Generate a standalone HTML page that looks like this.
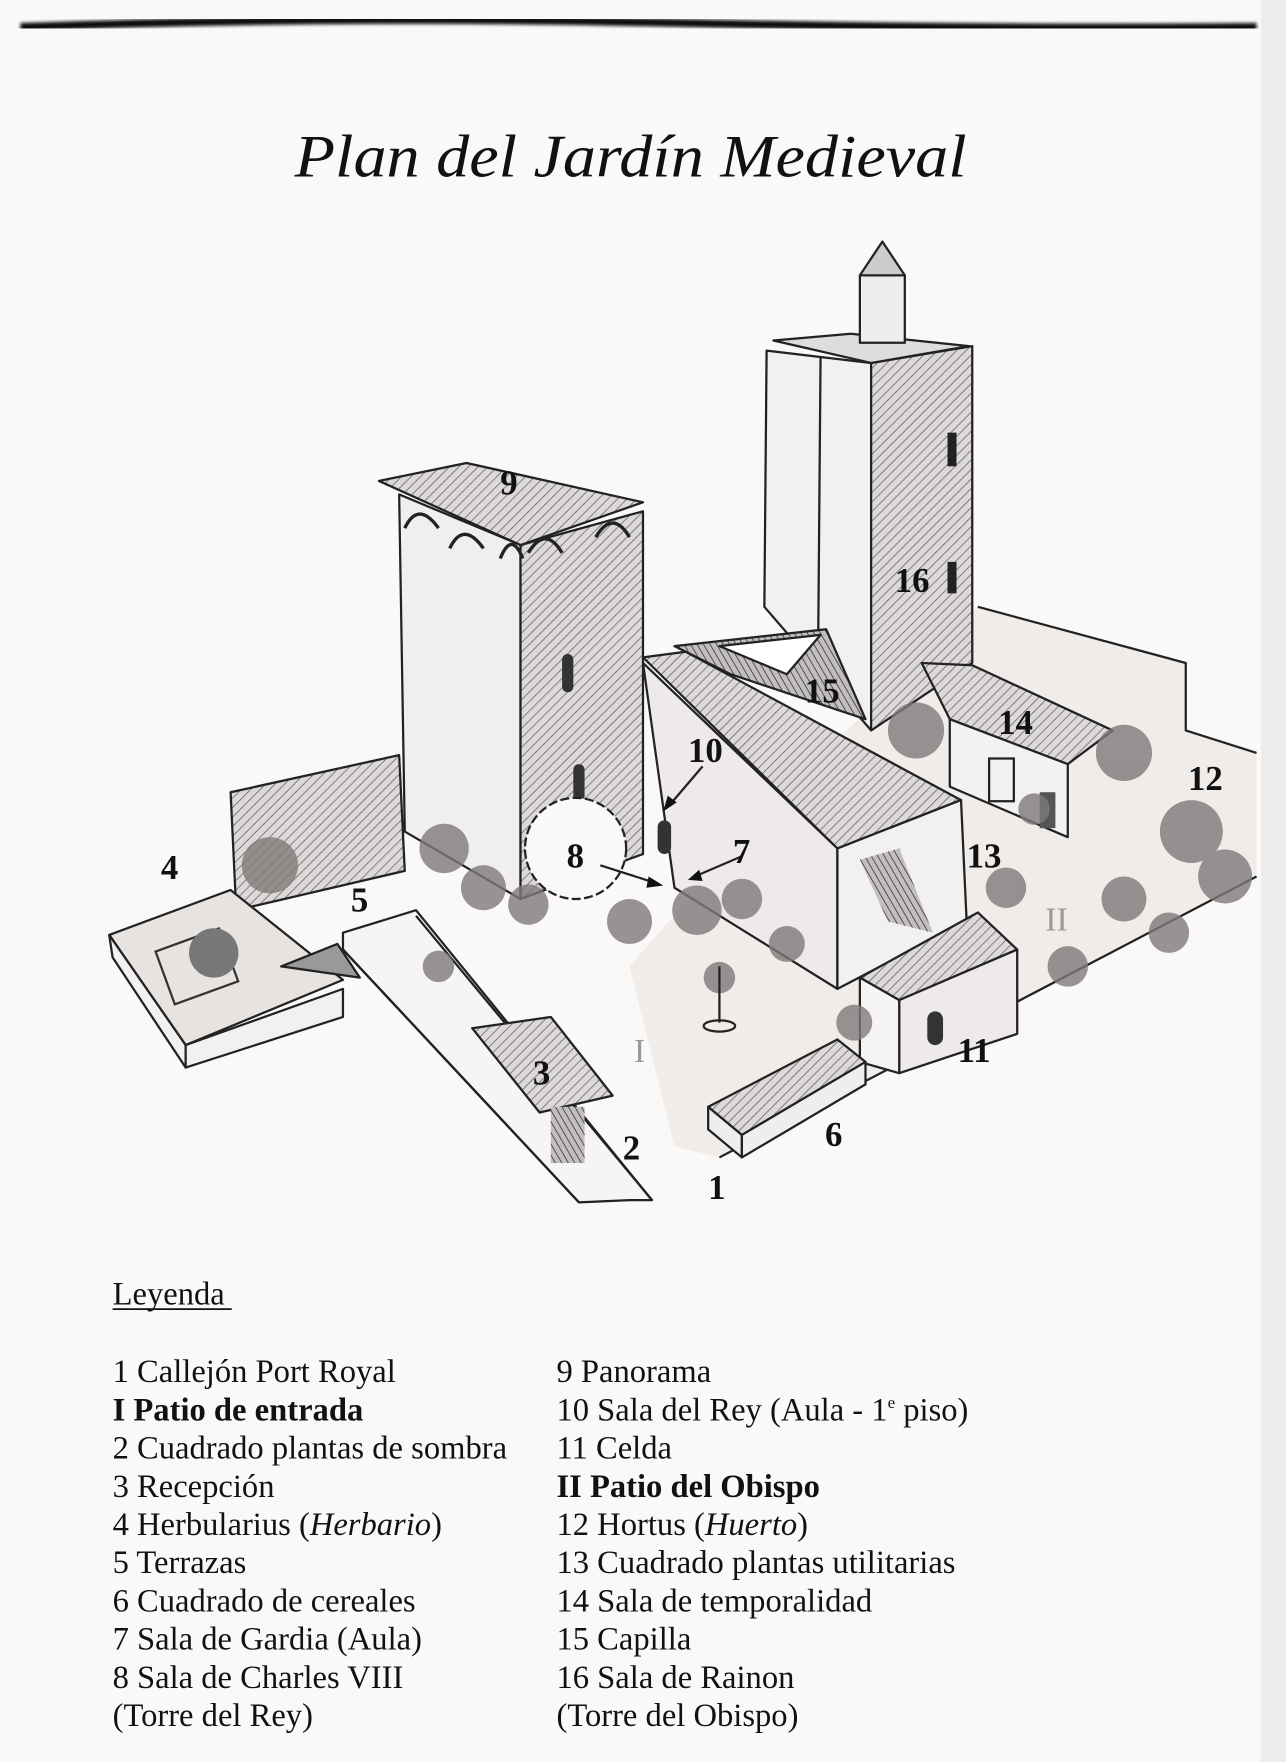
<!DOCTYPE html>
<html><head><meta charset="utf-8"><style>
html,body{margin:0;padding:0;background:#fbf9f8;}
svg{display:block}
.t{font-family:"Liberation Serif",serif;font-size:29px;fill:#111}
.n{font-family:"Liberation Serif",serif;font-weight:bold;font-size:31px;fill:#111}
.s{stroke:#222;stroke-width:2;stroke-linejoin:round}
</style></head><body>
<svg width="1286" height="1762" viewBox="0 0 1144 1568" xmlns="http://www.w3.org/2000/svg">
<defs>
<pattern id="h" width="6" height="6" patternUnits="userSpaceOnUse" patternTransform="rotate(45)"><rect width="6" height="6" fill="#dcd9d8"/><line x1="0" y1="0" x2="0" y2="6" stroke="#666" stroke-width="1.4"/></pattern>
<pattern id="h2" width="5" height="5" patternUnits="userSpaceOnUse" patternTransform="rotate(-30)"><rect width="5" height="5" fill="#c2bebd"/><line x1="0" y1="0" x2="0" y2="5" stroke="#333" stroke-width="1.4"/></pattern>
<filter id="b"><feGaussianBlur stdDeviation="1.5"/></filter>
</defs>
<rect width="1144" height="1568" fill="#fbf9f8"/>
<rect x="1122" y="0" width="22" height="1568" fill="#eeeceb"/>
<path d="M18 24 Q300 14 580 20 T1118 24" stroke="#111" stroke-width="7" fill="none" filter="url(#b)"/>
<text x="262" y="157" textLength="598" lengthAdjust="spacingAndGlyphs" font-family="Liberation Serif,serif" font-style="italic" font-size="54" fill="#111">Plan del Jardín Medieval</text>

<!-- ground / outer wall -->
<polygon points="870,540 1055,590 1055,650 1118,670 1118,780 640,1030 600,1020 560,860 700,700" fill="#efecea"/>
<polyline class="s" fill="none" points="870,540 1055,590 1055,650 1118,670"/>
<line class="s" x1="1118" y1="780" x2="640" y2="1030"/>
<!-- herbularius -->
<polygon class="s" points="205,705 355,672 360,775 210,810" fill="url(#h)"/>
<polygon class="s" points="97,832 205,792 305,872 165,930" fill="#e6e3e1"/>
<polygon class="s" points="97,832 165,930 165,950 100,852" fill="#f3f1f0"/>
<polygon class="s" points="165,930 305,880 305,905 165,950" fill="#f3f1f0"/>
<rect x="145" y="835" width="60" height="50" fill="none" stroke="#333" stroke-width="2" transform="rotate(-20 175 860)"/>
<circle cx="190" cy="848" r="22" fill="#777"/>
<polygon class="s" points="250,860 300,840 320,870" fill="#999"/>
<!-- walls 2/3 -->
<polygon class="s" points="305,830 370,810 580,1068 560,1068 515,1070 305,845" fill="#f7f5f4"/>
<line class="s" x1="305" y1="845" x2="515" y2="1070"/>
<line class="s" x1="370" y1="815" x2="580" y2="1068"/>
<polygon class="s" points="420,915 490,905 545,975 480,990" fill="url(#h)"/>
<rect x="490" y="985" width="30" height="50" fill="url(#h2)"/>
<!-- tower 9 -->
<polygon class="s" points="355,440 463,485 463,800 360,740" fill="#f1efee"/>
<polygon class="s" points="463,485 572,455 572,760 463,800" fill="url(#h)"/>
<polygon class="s" points="337,428 415,412 572,447 463,485" fill="url(#h)"/>
<path d="M360 470 q12 -25 30 0 M400 488 q12 -25 30 0 M445 497 q10 -25 20 0 M470 492 q15 -25 30 0 M530 478 q15 -25 30 0" stroke="#222" stroke-width="3" fill="none"/>
<rect x="500" y="582" width="10" height="34" fill="#333" rx="5"/>
<rect x="510" y="680" width="10" height="34" fill="#333" rx="5"/>
<!-- tower 16 -->
<polygon class="s" points="682,312 775,323 775,650 680,540" fill="#f3f1f0"/>
<polygon class="s" points="775,323 865,308 865,590 775,650" fill="url(#h)"/>
<polygon class="s" points="688,303 757,297 862,308 775,323" fill="#ddd"/>
<polygon class="s" points="765,245 805,245 805,305 765,305" fill="#eee"/>
<polygon class="s" points="765,245 785,215 805,245" fill="#ccc"/>
<rect x="843" y="385" width="8" height="30" fill="#222"/>
<rect x="843" y="500" width="8" height="28" fill="#222"/>
<line class="s" x1="730" y1="318" x2="728" y2="560"/>
<!-- chapel 15 -->
<polygon class="s" points="600,575 735,560 770,640 650,600" fill="url(#h2)"/>
<polygon class="s" points="640,575 730,565 700,600" fill="#fff"/>
<!-- long building 7/10 -->
<polygon class="s" points="572,585 610,580 855,712 745,755" fill="url(#h)"/>
<polygon class="s" points="572,590 745,755 745,880 600,790" fill="#eeeae9"/>
<polygon class="s" points="745,755 855,712 860,820 745,880" fill="#f3f1f0"/>
<polygon points="765,765 800,755 830,830 790,820" fill="url(#h2)"/>
<rect x="585" y="730" width="12" height="30" fill="#333" rx="6"/>
<!-- building 14 -->
<polygon class="s" points="820,590 865,592 990,650 950,680 845,640" fill="url(#h)"/>
<polygon class="s" points="845,640 950,680 950,745 845,700" fill="#f4f2f1"/>
<rect x="880" y="675" width="22" height="38" fill="none" stroke="#222" stroke-width="2"/>
<rect x="925" y="705" width="14" height="32" fill="#555"/>
<!-- building 11 -->
<polygon class="s" points="765,870 870,812 905,845 800,890" fill="url(#h)"/>
<polygon class="s" points="800,890 905,845 905,920 800,955" fill="#eeeae9"/>
<polygon class="s" points="765,870 800,890 800,955 765,945" fill="#f6f4f3"/>
<rect x="825" y="900" width="14" height="30" fill="#333" rx="7"/>
<!-- cereales -->
<polygon class="s" points="630,985 745,925 770,945 660,1010" fill="url(#h)"/>
<polygon class="s" points="630,985 660,1010 660,1030 630,1005" fill="#eee"/>
<polygon class="s" points="660,1010 770,945 770,965 660,1030" fill="#eee"/>
<!-- trees / vegetation -->
<g fill="#7e7a79" opacity=".8">
<circle cx="395" cy="755" r="22"/><circle cx="430" cy="790" r="20"/><circle cx="470" cy="805" r="18"/>
<circle cx="240" cy="770" r="25"/><circle cx="560" cy="820" r="20"/><circle cx="620" cy="810" r="22"/>
<circle cx="660" cy="800" r="18"/><circle cx="700" cy="840" r="16"/><circle cx="640" cy="870" r="14"/>
<circle cx="815" cy="650" r="25"/><circle cx="895" cy="790" r="18"/><circle cx="1000" cy="670" r="25"/>
<circle cx="1060" cy="740" r="28"/><circle cx="1090" cy="780" r="24"/><circle cx="1000" cy="800" r="20"/>
<circle cx="950" cy="860" r="18"/><circle cx="1040" cy="830" r="18"/><circle cx="390" cy="860" r="14"/>
<circle cx="760" cy="910" r="16"/><circle cx="920" cy="720" r="14"/>
</g>
<circle cx="512" cy="755" r="45" fill="#fbf9f8" stroke="#222" stroke-width="2" stroke-dasharray="8 3"/>
<ellipse cx="640" cy="913" rx="14" ry="5" fill="none" stroke="#222" stroke-width="2"/>
<line class="s" x1="640" y1="860" x2="640" y2="910"/>
<!-- arrows -->
<line class="s" x1="625" y1="682" x2="596" y2="716"/><polygon points="590,722 594,708 602,714" fill="#111"/>
<line class="s" x1="534" y1="770" x2="584" y2="786"/><polygon points="590,788 577,780 575,790" fill="#111"/>
<line class="s" x1="660" y1="762" x2="618" y2="780"/><polygon points="612,783 622,774 625,784" fill="#111"/>
<!-- labels -->
<g class="n">
<text x="445" y="440">9</text><text x="796" y="527">16</text><text x="716" y="625">15</text>
<text x="888" y="653">14</text><text x="612" y="678">10</text><text x="1057" y="703">12</text>
<text x="143" y="782">4</text><text x="504" y="772">8</text><text x="652" y="768">7</text>
<text x="860" y="772">13</text><text x="312" y="811">5</text><text x="852" y="945">11</text>
<text x="474" y="965">3</text><text x="734" y="1020">6</text><text x="554" y="1032">2</text><text x="630" y="1067">1</text>
</g>
<text x="930" y="828" font-family="Liberation Serif,serif" font-size="30" fill="#999">II</text>
<text x="564" y="945" font-family="Liberation Serif,serif" font-size="30" fill="#999">I</text>

<!-- legend -->
<text class="t" x="100" y="1161">Leyenda</text>
<line x1="100" y1="1165" x2="206" y2="1165" stroke="#111" stroke-width="1.5"/>
<g class="t">
<text x="100" y="1230">1 Callejón Port Royal</text>
<text x="100" y="1264" font-weight="bold">I Patio de entrada</text>
<text x="100" y="1298">2 Cuadrado plantas de sombra</text>
<text x="100" y="1332">3 Recepción</text>
<text x="100" y="1366">4 Herbularius (<tspan font-style="italic">Herbario</tspan>)</text>
<text x="100" y="1400">5 Terrazas</text>
<text x="100" y="1434">6 Cuadrado de cereales</text>
<text x="100" y="1468">7 Sala de Gardia (Aula)</text>
<text x="100" y="1502">8 Sala de Charles VIII</text>
<text x="100" y="1536">(Torre del Rey)</text>
<text x="495" y="1230">9 Panorama</text>
<text x="495" y="1264">10 Sala del Rey (Aula - 1<tspan font-size="15" dy="-11">e</tspan><tspan dy="11"> piso)</tspan></text>
<text x="495" y="1298">11 Celda</text>
<text x="495" y="1332" font-weight="bold">II Patio del Obispo</text>
<text x="495" y="1366">12 Hortus (<tspan font-style="italic">Huerto</tspan>)</text>
<text x="495" y="1400">13 Cuadrado plantas utilitarias</text>
<text x="495" y="1434">14 Sala de temporalidad</text>
<text x="495" y="1468">15 Capilla</text>
<text x="495" y="1502">16 Sala de Rainon</text>
<text x="495" y="1536">(Torre del Obispo)</text>
</g>
</svg>
</body></html>
